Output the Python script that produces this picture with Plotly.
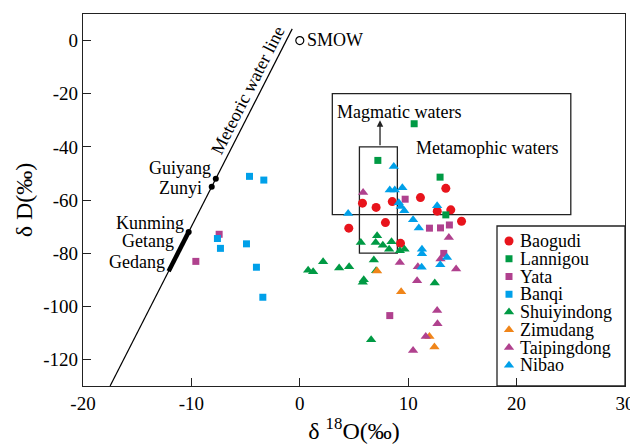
import plotly.graph_objects as go

# ---------------- data ----------------
BAOGUDI_X = [13.47, 5.78, 7.04, 8.53, 11.13, 12.68, 13.93, 4.52, 7.90, 9.29, 14.92]
BAOGUDI_Y = [-55.6, -61.2, -62.8, -60.6, -59.1, -64.2, -63.7, -70.6, -68.5, -76.3, -68.0]
LANNIGOU_X = [10.55, 7.2, 12.94, 13.47]
LANNIGOU_Y = [-31.3, -45.1, -51.4, -65.6]
YATA_X = [9.72, 11.96, 12.98, 13.8, 13.28, 8.3, -7.44, -9.59]
YATA_Y = [-59.7, -70.6, -70.5, -69.4, -80.1, -103.5, -72.9, -83.1]
BANQI_X = [-4.64, -3.32, -7.6, -7.32, -4.92, -4.0, -3.41]
BANQI_Y = [-51.1, -52.5, -74.5, -78.2, -76.5, -85.3, -96.6]
SHUIYINDONG_X = [5.63, 7.13, 7.0, 7.66, 8.46, 8.24, 9.23, 9.66, 6.83, 7.04,
                 2.15, 0.77, 1.23, 3.63, 4.55, 5.9, 5.81, 12.45, 6.58]
SHUIYINDONG_Y = [-76, -73.5, -76, -77, -75.7, -78.5, -79.1, -78.5, -82.6, -86.6,
                 -83.2, -86.4, -87, -85.6, -85.1, -90, -91, -91.2, -112.6]
ZIMUDANG_X = [7.13, 9.35, 11.96, 12.42]
ZIMUDANG_Y = [-86.7, -94.5, -111.4, -115.3]
TAIPINGDONG_X = [5.84, 13.75, 9.23, 10.89, 10.82, 12.98, 14.42, 12.67, 12.7, 11.62, 10.45]
TAIPINGDONG_Y = [-57.2, -74.1, -83.5, -85.1, -90.4, -82.2, -86, -101.6, -106.6, -111.4, -116.6]
NIBAO_X = [8.67, 8.3, 8.76, 9.46, 9.13, 9.32, 9.64, 4.46, 12.67, 10.45, 10.98,
           11.27, 11.27, 11.24, 12.96, 13.58]
NIBAO_Y = [-47.4, -56.2, -56.2, -55.4, -61.0, -62.4, -64.0, -65.1, -62.2, -67.4, -70.5,
           -78.5, -80.2, -85.3, -84.4, -81.6]

SERIES_NAMES = ["Baogudi", "Lannigou", "Yata", "Banqi",
                "Shuiyindong", "Zimudang", "Taipingdong", "Nibao"]

# meteoric water line  dD = 8 d18O + 10
MWL_X = [-17.5, -0.7]
MWL_SEG_X = [-10.25, -12.1]          # Kunming-Getang-Gedang range
CITY_NAMES = ["Guiyang", "Zunyi", "Kunming"]
CITY_X = [-7.75, -8.125, -10.25]
SMOW_X, SMOW_Y = [0], [0]

# boxes (d18O range, dD range)
METAMORPHIC_BOX = (3, 25, -65.5, -20)
MAGMATIC_BOX = (5.5, 9, -80, -40)

X_RANGE = [-20, 30]
Y_RANGE = [-130, 10]
X_TICKS = [-20, -10, 0, 10, 20, 30]
X_TICK_LABELS = ["-20", "-10", "0", "10", "20", "30"]
Y_TICKS = [0, -20, -40, -60, -80, -100, -120]
Y_TICK_LABELS = ["0", "-20", "-40", "-60", "-80", "-100", "-120"]

# ---------------- styles ----------------
FONT = "Liberation Serif, Times New Roman, serif"
RED = "#E8141C"
GREEN = "#009A44"
PURPLE = "#B0418E"
CYAN = "#00A0E9"
ORANGE = "#F08519"
TXT = 18

STYLES = {
    "Baogudi": dict(symbol="circle", color=RED, size=9),
    "Lannigou": dict(symbol="square", color=GREEN, size=7),
    "Yata": dict(symbol="square", color=PURPLE, size=7),
    "Banqi": dict(symbol="square", color=CYAN, size=7),
    "Shuiyindong": dict(symbol="triangle-up", color=GREEN, size=9),
    "Zimudang": dict(symbol="triangle-up", color=ORANGE, size=9),
    "Taipingdong": dict(symbol="triangle-up", color=PURPLE, size=9),
    "Nibao": dict(symbol="triangle-up", color=CYAN, size=9),
}
DATA = {
    "Baogudi": (BAOGUDI_X, BAOGUDI_Y),
    "Lannigou": (LANNIGOU_X, LANNIGOU_Y),
    "Yata": (YATA_X, YATA_Y),
    "Banqi": (BANQI_X, BANQI_Y),
    "Shuiyindong": (SHUIYINDONG_X, SHUIYINDONG_Y),
    "Zimudang": (ZIMUDANG_X, ZIMUDANG_Y),
    "Taipingdong": (TAIPINGDONG_X, TAIPINGDONG_Y),
    "Nibao": (NIBAO_X, NIBAO_Y),
}

fig = go.Figure()

# meteoric water line
fig.add_trace(go.Scatter(x=MWL_X, y=[8 * v + 10 for v in MWL_X], mode="lines",
                         line=dict(color="black", width=1.2), showlegend=False,
                         hoverinfo="skip"))
fig.add_trace(go.Scatter(x=MWL_SEG_X, y=[8 * v + 10 for v in MWL_SEG_X], mode="lines",
                         line=dict(color="black", width=4.5), showlegend=False,
                         hoverinfo="skip"))
fig.add_trace(go.Scatter(x=CITY_X, y=[8 * v + 10 for v in CITY_X], mode="markers",
                         marker=dict(color="black", size=6), showlegend=False))
fig.add_trace(go.Scatter(x=SMOW_X, y=SMOW_Y, mode="markers",
                         marker=dict(symbol="circle-open", color="black", size=8,
                                     line=dict(width=1.2)), showlegend=False))

# data series
for name in SERIES_NAMES:
    xs, ys = DATA[name]
    st = STYLES[name]
    fig.add_trace(go.Scatter(x=xs, y=ys, mode="markers", name=name, showlegend=False,
                             marker=dict(symbol=st["symbol"], color=st["color"],
                                         size=st["size"], line=dict(width=0))))

# legend drawn on an overlay axis measured in pixels of the plot area
LEG_TOP, LEG_STEP, LEG_MX, LEG_TX = 241, 17.75, 509, 519
for i, name in enumerate(SERIES_NAMES):
    st = STYLES[name]
    fig.add_trace(go.Scatter(x=[LEG_MX], y=[LEG_TOP + i * LEG_STEP], mode="markers",
                             xaxis="x2", yaxis="y2", showlegend=False, hoverinfo="skip",
                             marker=dict(symbol=st["symbol"], color=st["color"],
                                         size=st["size"], line=dict(width=0))))
    fig.add_annotation(x=LEG_TX, y=LEG_TOP + i * LEG_STEP, xref="x2", yref="y2",
                       text=name, showarrow=False, xanchor="left", yanchor="middle",
                       borderpad=0,
                       font=dict(family=FONT, size=TXT, color="black"))

shapes = []
for (x0, x1, y0, y1) in (METAMORPHIC_BOX, MAGMATIC_BOX):
    shapes.append(dict(type="rect", xref="x", yref="y", x0=x0, x1=x1, y0=y0, y1=y1,
                       line=dict(color="#222", width=1.3), layer="below"))
shapes.append(dict(type="rect", xref="x2", yref="y2", x0=497, x1=625, y0=226, y1=386,
                   line=dict(color="#222", width=1.3), fillcolor="white", layer="below"))

annots = [
    dict(x=-8.12, y=-48.1, text="Guiyang", xanchor="right"),
    dict(x=-8.95, y=-55.6, text="Zunyi", xanchor="right"),
    dict(x=-10.6, y=-68.7, text="Kunming", xanchor="right"),
    dict(x=-11.5, y=-75.5, text="Getang", xanchor="right"),
    dict(x=-12.36, y=-83.4, text="Gedang", xanchor="right"),
    dict(x=0.6, y=0.3, text="SMOW", xanchor="left"),
    dict(x=3.3, y=-26.8, text="Magmatic waters", xanchor="left"),
    dict(x=10.6, y=-40.6, text="Metamophic waters", xanchor="left"),
]
for a in annots:
    fig.add_annotation(x=a["x"], y=a["y"], text=a["text"], xanchor=a["xanchor"],
                       yanchor="middle", showarrow=False, borderpad=0,
                       font=dict(family=FONT, size=TXT, color="black"))
fig.add_annotation(x=-4.8, y=-18.5, text="Meteoric water line", textangle=-63,
                   showarrow=False, xanchor="center", yanchor="middle", borderpad=0,
                   font=dict(family=FONT, size=TXT, color="black"))
fig.add_annotation(x=7.4, y=-30, ax=7.4, ay=-40, axref="x", ayref="y", text="",
                   showarrow=True, arrowhead=2, arrowsize=1, arrowwidth=1.3,
                   arrowcolor="#222")

axis_common = dict(showline=True, linecolor="#222", linewidth=1.3, mirror=True,
                   ticks="inside", ticklen=8, tickwidth=1.3, tickcolor="#222",
                   showgrid=False, zeroline=False, ticklabeloverflow="allow",
                   automargin=False,
                   tickfont=dict(family=FONT, size=19, color="black"))

fig.update_layout(
    width=630, height=446,
    margin=dict(l=83, r=5, t=14, b=60),
    paper_bgcolor="white", plot_bgcolor="white",
    showlegend=False,
    shapes=shapes,
    xaxis=dict(range=X_RANGE, tickvals=X_TICKS, ticktext=X_TICK_LABELS, **axis_common,
               title=dict(text="δ <sup>18</sup>O(‰)", standoff=4,
                          font=dict(family=FONT, size=24, color="black"))),
    yaxis=dict(range=Y_RANGE, tickvals=Y_TICKS, ticktext=Y_TICK_LABELS, **axis_common,
               title=dict(text="δ D(‰)", standoff=3,
                          font=dict(family=FONT, size=24, color="black"))),
    xaxis2=dict(range=[83, 625], overlaying="x", visible=False, anchor="y2"),
    yaxis2=dict(range=[386, 14], overlaying="y", visible=False, anchor="x2"),
)

fig.write_html("out.html", config={"displayModeBar": False},
               post_script="document.body.style.margin='0';"
                           "document.documentElement.style.overflow='hidden';")
